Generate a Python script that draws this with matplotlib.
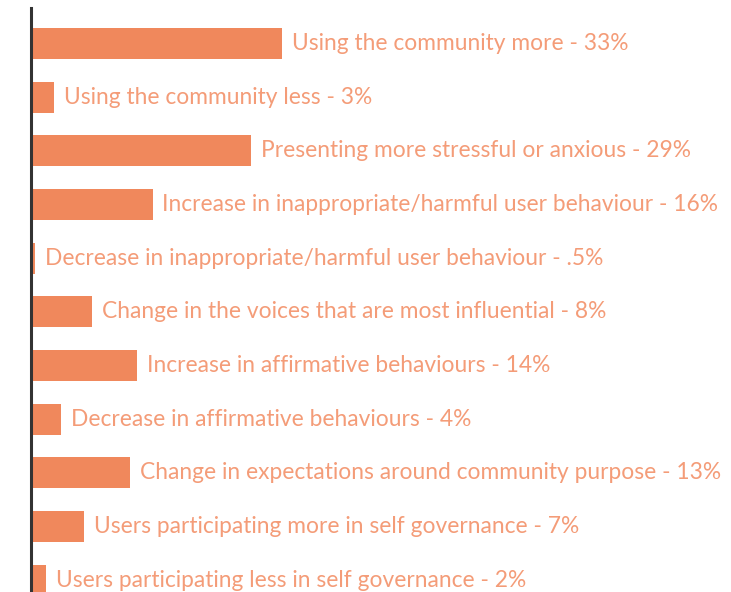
import matplotlib
matplotlib.use("Agg")
import matplotlib.pyplot as plt

categories = [
    "Using the community more",
    "Using the community less",
    "Presenting more stressful or anxious",
    "Increase in inappropriate/harmful user behaviour",
    "Decrease in inappropriate/harmful user behaviour",
    "Change in the voices that are most influential",
    "Increase in affirmative behaviours",
    "Decrease in affirmative behaviours",
    "Change in expectations around community purpose",
    "Users participating more in self governance",
    "Users participating less in self governance",
]
values = [33, 3, 29, 16, 0.5, 8, 14, 4, 13, 7, 2]
value_labels = ["33%", "3%", "29%", "16%", ".5%", "8%", "14%", "4%", "13%", "7%", "2%"]

BAR = "#F0885C"
TEXT = "#F49C78"

W, H = 731, 592
fig = plt.figure(figsize=(W / 100, H / 100), dpi=100)
ax = fig.add_axes([31 / W, 0, 700 / W, 584 / H])

y = list(range(len(categories)))
ax.barh(y, values, height=0.58, color=BAR, left=0)

for yi, cat, v, lab in zip(y, categories, values, value_labels):
    ax.text(v + 1.3, yi, f"{cat} - {lab}", va="center", ha="left",
            color=TEXT, fontsize=16.4, family="Lato", fontweight="normal")

ax.set_xlim(0, 92.1)
ax.set_ylim(10.22, -0.66)
for s in ["top", "right", "bottom"]:
    ax.spines[s].set_visible(False)
ax.spines["left"].set_color("#333333")
ax.spines["left"].set_linewidth(2.2)
ax.set_xticks([])
ax.set_yticks([])

fig.savefig("out.png", dpi=100)
